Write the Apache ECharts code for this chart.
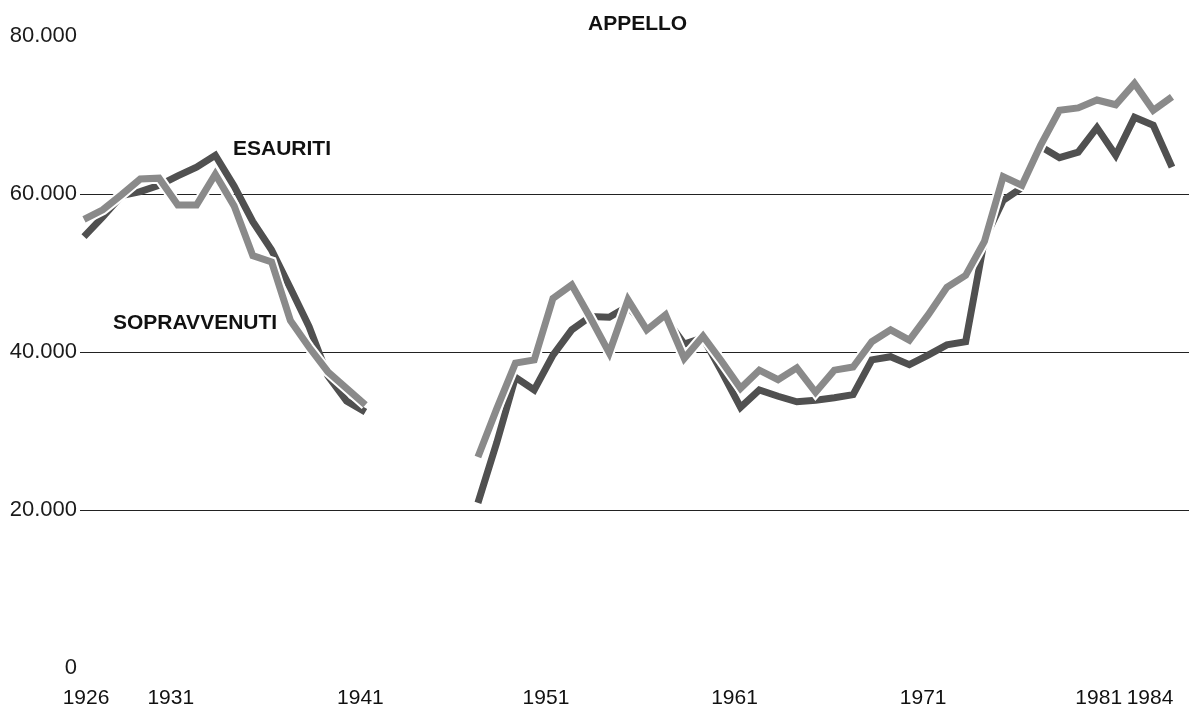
<!DOCTYPE html>
<html>
<head>
<meta charset="utf-8">
<title>Appello</title>
<script src="https://cdn.jsdelivr.net/npm/echarts@6/dist/echarts.min.js"></script>
<style>
  html, body { margin: 0; padding: 0; background: #fff; }
  #chart { width: 1191px; height: 713px; }
</style>
</head>
<body>
<div id="chart"></div>
<script>
// anni
const years = [
  1926, 1927, 1928, 1929, 1930, 1931, 1932, 1933, 1934, 1935,
  1936, 1937, 1938, 1939, 1940, 1941, 1942, 1943, 1944, 1945,
  1946, 1947, 1948, 1949, 1950, 1951, 1952, 1953, 1954, 1955,
  1956, 1957, 1958, 1959, 1960, 1961, 1962, 1963, 1964, 1965,
  1966, 1967, 1968, 1969, 1970, 1971, 1972, 1973, 1974, 1975,
  1976, 1977, 1978, 1979, 1980, 1981, 1982, 1983, 1984
];

// procedimenti sopravvenuti (linea chiara)
const sopravvenuti = [
  56800, 58000, 59900, 61900, 62000, 58600, 58600, 62500, 58500, 52200,
  51400, 44000, 40600, 37500, 35400, 33300, null, null, null, null,
  null, 26700, 32800, 38600, 39000, 46800, 48500, 44300, 39900, 46600,
  42800, 44700, 39200, 42000, 38800, 35400, 37700, 36500, 38000, 34900,
  37700, 38100, 41300, 42800, 41500, 44700, 48200, 49700, 54000, 62200,
  61100, 66200, 70600, 70900, 71900, 71300, 74000, 70600, 72300
];

// procedimenti esauriti (linea scura)
const esauriti = [
  54600, 57100, 59800, 60300, 61100, 62300, 63400, 64900, 61000, 56500,
  52900, 48100, 43200, 37000, 33800, 32400, null, null, null, null,
  null, 20900, 28500, 36800, 35200, 39600, 42800, 44500, 44400, 45800,
  43000, 44300, 41000, 41800, 37500, 33000, 35200, 34400, 33700, 33900,
  34200, 34600, 39000, 39400, 38400, 39600, 40900, 41300, 54200, 59200,
  60800, 66000, 64600, 65300, 68400, 64900, 69700, 68700, 63400
];

const yearLabels = [1926, 1931, 1941, 1951, 1961, 1971, 1981, 1984];

// spostamento orizzontale delle etichette rispetto al tick (px)
const labelShift = { 1926: 2, 1931: -7, 1941: -5, 1951: -7, 1961: -6, 1971: -5, 1981: -17, 1984: -22 };

const toPairs = (vals) => years.map((y, i) => [y, vals[i] == null ? '-' : vals[i]]);

// layout: primo anno a x=84, ultimo a x=1172, griglia da 80 a 1189
const gridLeft = 80, gridRight = 2;
const xFirst = 84, xLast = 1172;
const pxPerYear = (xLast - xFirst) / (years[years.length - 1] - years[0]);
const xMin = years[0] - (xFirst - gridLeft) / pxPerYear;
const xMax = years[years.length - 1] + (1191 - gridRight - xLast) / pxPerYear;

const rich = {};
yearLabels.forEach(y => {
  const s = labelShift[y] || 0;
  rich['l' + y] = {
    fontSize: 21,
    color: '#111',
    fontFamily: 'Liberation Sans',
    padding: s < 0 ? [0, -2 * s, 0, 0] : [0, 0, 0, 2 * s]
  };
});

const chart = echarts.init(document.getElementById('chart'), null, { renderer: 'canvas' });

chart.setOption({
  animation: false,
  backgroundColor: '#fff',
  title: {
    text: 'APPELLO',
    left: 583,
    top: 9,
    textStyle: {
      fontFamily: 'Liberation Sans',
      fontSize: 21,
      fontWeight: 'bold',
      color: '#111'
    }
  },
  grid: {
    left: gridLeft,
    right: gridRight,
    top: 36,
    bottom: 45
  },
  xAxis: {
    type: 'value',
    min: xMin,
    max: xMax,
    splitLine: { show: false },
    axisLine: { show: false },
    axisTick: { show: false },
    axisLabel: {
      customValues: yearLabels,
      margin: 20,
      formatter: v => '{l' + v + '|' + v + '}',
      rich: rich
    }
  },
  yAxis: {
    type: 'value',
    min: 0,
    max: 80000,
    interval: 20000,
    axisLine: { show: false },
    axisTick: { show: false },
    splitLine: {
      show: true,
      showMinLine: false,
      showMaxLine: false,
      lineStyle: { color: '#222', width: 1.2 }
    },
    axisLabel: {
      margin: 3,
      fontSize: 22,
      color: '#1a1a1a',
      fontFamily: 'Liberation Sans',
      formatter: v => v === 0 ? '0' : (v / 1000) + '.000'
    }
  },
  graphic: [
    {
      type: 'text',
      left: 233,
      top: 139,
      style: {
        text: 'ESAURITI',
        font: 'bold 21px "Liberation Sans"',
        fill: '#111'
      }
    },
    {
      type: 'text',
      left: 113,
      top: 313,
      style: {
        text: 'SOPRAVVENUTI',
        font: 'bold 21px "Liberation Sans"',
        fill: '#111'
      }
    }
  ],
  series: [
    {
      name: 'ESAURITI',
      type: 'line',
      data: toPairs(esauriti),
      symbol: 'none',
      z: 2,
      lineStyle: { color: '#505050', width: 7, join: 'miter' }
    },
    {
      name: 'bordo',
      type: 'line',
      data: toPairs(sopravvenuti),
      symbol: 'none',
      silent: true,
      z: 3,
      lineStyle: { color: '#ffffff', width: 11, join: 'miter' }
    },
    {
      name: 'SOPRAVVENUTI',
      type: 'line',
      data: toPairs(sopravvenuti),
      symbol: 'none',
      z: 4,
      lineStyle: { color: '#8a8a8a', width: 7, join: 'miter' }
    }
  ]
});
</script>
</body>
</html>
